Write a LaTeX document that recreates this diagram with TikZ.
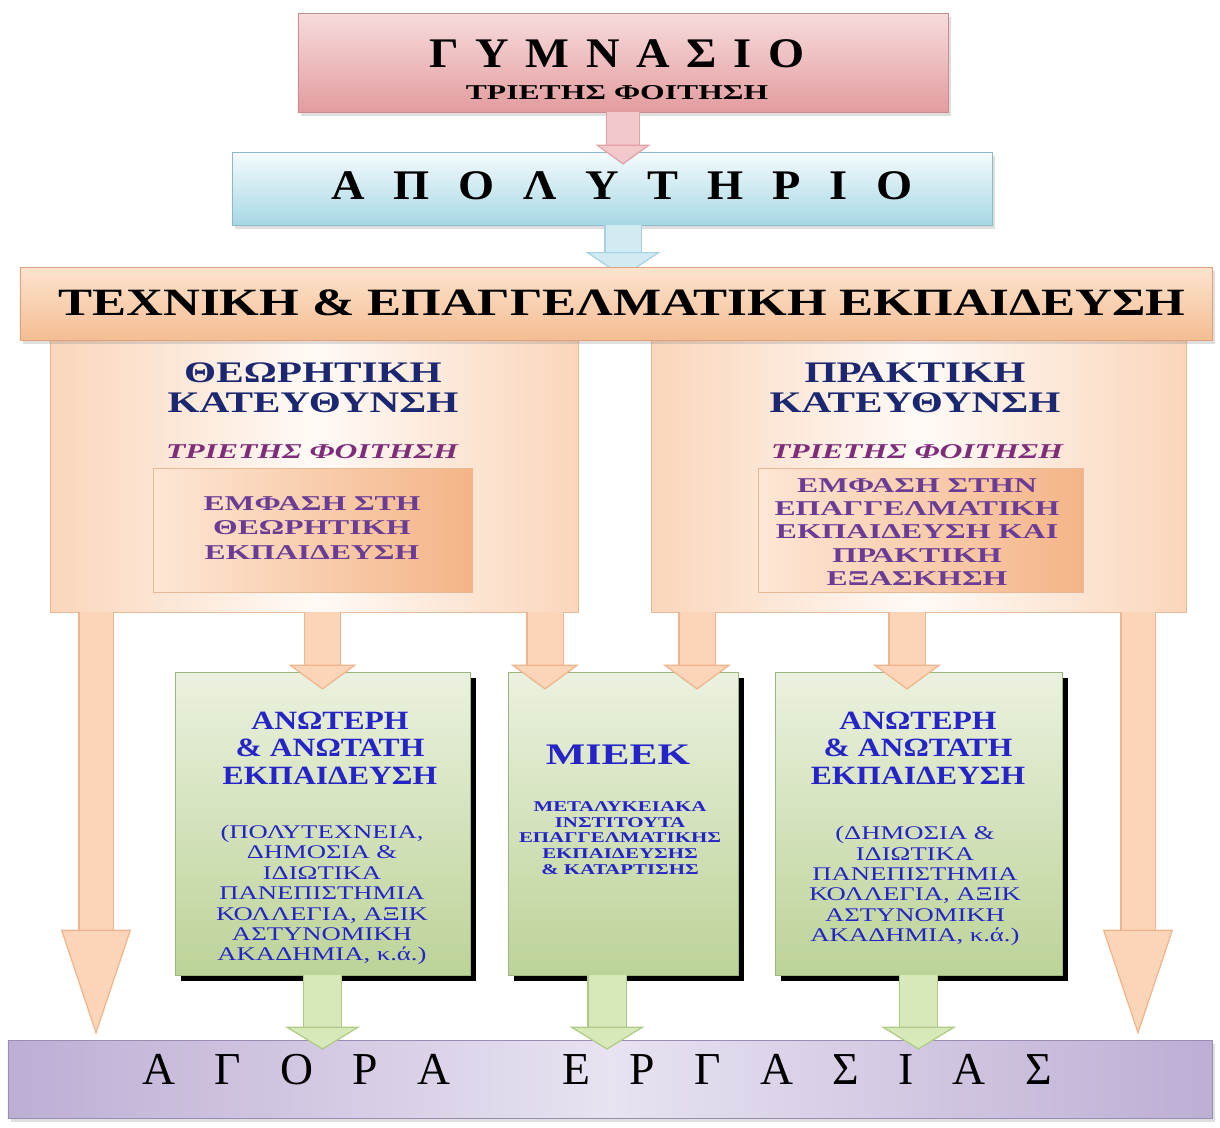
\documentclass[tikz,border=0pt]{standalone}
\usepackage{fontspec}
\setmainfont{Liberation Serif}
\usetikzlibrary{arrows.meta,shadows}

\definecolor{gymtop}{HTML}{F7DCDC}
\definecolor{gymbot}{HTML}{E39C9F}
\definecolor{gymedge}{HTML}{C98C8E}
\definecolor{apoltop}{HTML}{F5FBFD}
\definecolor{apolbot}{HTML}{A6D8E4}
\definecolor{apoledge}{HTML}{8DB9C6}
\definecolor{techtop}{HTML}{FDE4CE}
\definecolor{techbot}{HTML}{F5BD93}
\definecolor{techedge}{HTML}{DDA27B}
\definecolor{pnlside}{HTML}{FAD6BB}
\definecolor{pnlmid}{HTML}{FFFAF6}
\definecolor{pnledge}{HTML}{E9B995}
\definecolor{inleft}{HTML}{FDE7D5}
\definecolor{inright}{HTML}{F4B487}
\definecolor{grntop}{HTML}{EBF1DF}
\definecolor{grnbot}{HTML}{BCD398}
\definecolor{grnedge}{HTML}{9DB57E}
\definecolor{mktside}{HTML}{BDAED4}
\definecolor{mktmid}{HTML}{E8E2F1}
\definecolor{mktedge}{HTML}{9A8DB4}
\definecolor{navy}{HTML}{1B2770}
\definecolor{violet}{HTML}{6B3C95}
\definecolor{plum}{HTML}{7E2D7A}
\definecolor{royal}{HTML}{2424C8}
\definecolor{peach}{HTML}{FCD5B9}
\definecolor{peachedge}{HTML}{EFB48C}
\definecolor{rose}{HTML}{F3C8CB}
\definecolor{roseedge}{HTML}{E0A2A7}
\definecolor{sky}{HTML}{D2EBF2}
\definecolor{skyedge}{HTML}{A5D2E0}
\definecolor{leaf}{HTML}{D7E8B9}
\definecolor{leafedge}{HTML}{AECB86}

\newcommand\gapped[1]{\spaceskip=#1\relax}

\tikzset{
  softshadow/.style={drop shadow={opacity=0.25, shadow xshift=0.6mm, shadow yshift=-0.8mm}},
  blackshadow/.style={drop shadow={fill=black, opacity=1, shadow xshift=1.1mm, shadow yshift=-1.1mm}},
  lbl/.style={align=center, inner sep=0pt},
  fatarrow/.style n args={5}{line width=#3, draw=#1,
    -{Triangle[width=#4, length=#5, fill=#1, color=#2, line width=0.7pt]},
    preaction={draw=#2, line width=#3+1.4pt, shorten >=#5-1pt, -}},
}

\begin{document}
\begin{tikzpicture}[x=0.2mm, y=-0.2mm]
  \useasboundingbox (0,0) rectangle (1220,1127);

  % the two directions under the main box
  \node[draw=pnledge, left color=pnlside, right color=pnlside, middle color=pnlmid,
        minimum width=105.6mm, minimum height=54.4mm] (lpanel) at (314,476) {};
  \node[draw=pnledge, left color=pnlside, right color=pnlside, middle color=pnlmid,
        minimum width=107mm, minimum height=54.4mm] (rpanel) at (918.5,476) {};

  % boxes at the top
  \node[draw=gymedge, top color=gymtop, bottom color=gymbot, softshadow,
        minimum width=130mm, minimum height=19.8mm] (gym) at (623,62.5) {};
  \node[draw=apoledge, top color=apoltop, bottom color=apolbot, softshadow,
        minimum width=152mm, minimum height=14.6mm] (apol) at (612,188.5) {};
  \coordinate (tech top) at (620,267);
  \draw[fatarrow={sky}{skyedge}{7mm}{15mm}{5mm}] (gym.south |- apol.south) -- ([yshift=-2mm]gym.south |- tech top);
  \node[draw=techedge, top color=techtop, bottom color=techbot, softshadow,
        minimum width=238.4mm, minimum height=14.6mm] (tech) at (616,303.5) {};
  \draw[fatarrow={rose}{roseedge}{6.4mm}{11mm}{4mm}] (gym.south) -- ([yshift=-2.6mm]gym.south |- apol.north);

  \node[lbl, font=\fontsize{24}{28}\selectfont\bfseries, xscale=1.1] (gymtxt) at (617,54) {\gapped{.36em}Γ Υ Μ Ν Α Σ Ι Ο};
  \node[lbl, font=\fontsize{12}{14}\selectfont\bfseries, xscale=1.5] (gymsub) at (617,93) {ΤΡΙΕΤΗΣ ΦΟΙΤΗΣΗ};
  \node[lbl, font=\fontsize{24}{28}\selectfont\bfseries, xscale=1.1] (apoltxt) at (622,186) {\gapped{.62em}Α Π Ο Λ Υ Τ Η Ρ Ι Ο};
  \node[lbl, font=\fontsize{22}{26}\selectfont\bfseries, xscale=1.32] (techtxt) at (622,303) {ΤΕΧΝΙΚΗ \& ΕΠΑΓΓΕΛΜΑΤΙΚΗ ΕΚΠΑΙΔΕΥΣΗ};

  % left direction
  \node[lbl, font=\fontsize{17}{17}\selectfont\bfseries, text=navy, xscale=1.38] (lhead) at (313,388) {ΘΕΩΡΗΤΙΚΗ\\ΚΑΤΕΥΘΥΝΣΗ};
  \node[lbl, font=\fontsize{12}{14}\selectfont\bfseries\itshape, text=plum, xscale=1.5] (lyears) at (312,452) {ΤΡΙΕΤΗΣ ΦΟΙΤΗΣΗ};
  \node[draw=pnledge, left color=inleft, right color=inright,
        minimum width=63.8mm, minimum height=24.8mm] (lfocus) at (312.5,530) {};
  \node[lbl, font=\fontsize{12}{13.9}\selectfont\bfseries, text=violet, xscale=1.5] (lfocustxt) at (312,528)
       {ΕΜΦΑΣΗ ΣΤΗ\\ΘΕΩΡΗΤΙΚΗ\\ΕΚΠΑΙΔΕΥΣΗ};

  % right direction
  \node[lbl, font=\fontsize{17}{17}\selectfont\bfseries, text=navy, xscale=1.38] (rhead) at (915,388) {ΠΡΑΚΤΙΚΗ\\ΚΑΤΕΥΘΥΝΣΗ};
  \node[lbl, font=\fontsize{12}{14}\selectfont\bfseries\itshape, text=plum, xscale=1.5] (ryears) at (917,452) {ΤΡΙΕΤΗΣ ΦΟΙΤΗΣΗ};
  \node[draw=pnledge, left color=inleft, right color=inright,
        minimum width=65mm, minimum height=24.8mm] (rfocus) at (920.5,530) {};
  \node[lbl, font=\fontsize{12}{13.3}\selectfont\bfseries, text=violet, xscale=1.5] (rfocustxt) at (917,532)
       {ΕΜΦΑΣΗ ΣΤΗΝ\\ΕΠΑΓΓΕΛΜΑΤΙΚΗ\\ΕΚΠΑΙΔΕΥΣΗ ΚΑΙ\\ΠΡΑΚΤΙΚΗ\\ΕΞΑΣΚΗΣΗ};

  % green boxes
  \node[draw=grnedge, top color=grntop, bottom color=grnbot, blackshadow,
        minimum width=59mm, minimum height=60.6mm] (uni1) at (322.5,823.5) {};
  \node[draw=grnedge, top color=grntop, bottom color=grnbot, blackshadow,
        minimum width=46mm, minimum height=60.6mm] (mieek) at (623,823.5) {};
  \node[draw=grnedge, top color=grntop, bottom color=grnbot, blackshadow,
        minimum width=57.4mm, minimum height=60.6mm] (uni2) at (918.5,823.5) {};

  \node[lbl, font=\fontsize{15}{15.6}\selectfont\bfseries, text=royal, xscale=1.2] (uni1head) at (330,748)
       {ΑΝΩΤΕΡΗ\\\& ΑΝΩΤΑΤΗ\\ΕΚΠΑΙΔΕΥΣΗ};
  \node[lbl, font=\fontsize{11}{11.6}\selectfont, text=royal, xscale=1.38] (uni1list) at (322,895)
       {(ΠΟΛΥΤΕΧΝΕΙΑ,\\ΔΗΜΟΣΙΑ \&\\ΙΔΙΩΤΙΚΑ\\ΠΑΝΕΠΙΣΤΗΜΙΑ\\ΚΟΛΛΕΓΙΑ, ΑΞΙΚ\\ΑΣΤΥΝΟΜΙΚΗ\\ΑΚΑΔΗΜΙΑ, κ.ά.)};
  \node[lbl, font=\fontsize{17}{20}\selectfont\bfseries, text=royal, xscale=1.4] (mieekhead) at (618,755) {ΜΙΕΕΚ};
  \node[lbl, font=\fontsize{8.5}{9}\selectfont\bfseries, text=royal, xscale=1.4] (mieeklist) at (620,838)
       {ΜΕΤΑΛΥΚΕΙΑΚΑ\\ΙΝΣΤΙΤΟΥΤΑ\\ΕΠΑΓΓΕΛΜΑΤΙΚΗΣ\\ΕΚΠΑΙΔΕΥΣΗΣ\\\& ΚΑΤΑΡΤΙΣΗΣ};
  \node[lbl, font=\fontsize{15}{15.6}\selectfont\bfseries, text=royal, xscale=1.2] (uni2head) at (918,748)
       {ΑΝΩΤΕΡΗ\\\& ΑΝΩΤΑΤΗ\\ΕΚΠΑΙΔΕΥΣΗ};
  \node[lbl, font=\fontsize{11}{11.6}\selectfont, text=royal, xscale=1.38] (uni2list) at (915,886)
       {(ΔΗΜΟΣΙΑ \&\\ΙΔΙΩΤΙΚΑ\\ΠΑΝΕΠΙΣΤΗΜΙΑ\\ΚΟΛΛΕΓΙΑ, ΑΞΙΚ\\ΑΣΤΥΝΟΜΙΚΗ\\ΑΚΑΔΗΜΙΑ, κ.ά.)};

  % labour market
  \node[draw=mktedge, left color=mktside, right color=mktside, middle color=mktmid, softshadow,
        minimum width=240.8mm, minimum height=15.6mm] (market) at (610,1079) {};
  \node[lbl, font=\fontsize{26}{30}\selectfont] (markettxt) at (597,1070)
       {\gapped{.86em}Α Γ Ο Ρ Α\hspace{1.6em} Ε Ρ Γ Α Σ Ι Α Σ};

  % arrows out of the two directions
  \coordinate (ldrop) at (96,612);
  \coordinate (rdrop) at (1138,612);
  \coordinate (lmid) at (545,612);
  \coordinate (rmid) at (697,612);
  \coordinate (rdown) at (907,612);
  \draw[fatarrow={peach}{peachedge}{6.6mm}{14mm}{21mm}] (ldrop) -- ([yshift=1mm]ldrop |- market.north);
  \draw[fatarrow={peach}{peachedge}{6.6mm}{14mm}{21mm}] (rdrop) -- ([yshift=1mm]rdrop |- market.north);
  \draw[fatarrow={peach}{peachedge}{7mm}{13.6mm}{5mm}] (uni1.north |- lpanel.south) -- ([yshift=-3.6mm]uni1.north);
  \draw[fatarrow={peach}{peachedge}{7mm}{13.6mm}{5mm}] (lmid) -- ([yshift=-3.6mm]lmid |- mieek.north);
  \draw[fatarrow={peach}{peachedge}{7mm}{13.6mm}{5mm}] (rmid) -- ([yshift=-3.6mm]rmid |- mieek.north);
  \draw[fatarrow={peach}{peachedge}{7mm}{13.6mm}{5mm}] (rdown) -- ([yshift=-3.6mm]rdown |- uni2.north);

  % arrows into the market
  \coordinate (mdown) at (607,975);
  \draw[fatarrow={leaf}{leafedge}{7.4mm}{15mm}{4.6mm}] (uni1.south) -- ([yshift=-2mm]uni1.south |- market.north);
  \draw[fatarrow={leaf}{leafedge}{7.4mm}{15mm}{4.6mm}] (mdown) -- ([yshift=-2mm]mdown |- market.north);
  \draw[fatarrow={leaf}{leafedge}{7.4mm}{15mm}{4.6mm}] (uni2.south) -- ([yshift=-2mm]uni2.south |- market.north);
\end{tikzpicture}
\end{document}
